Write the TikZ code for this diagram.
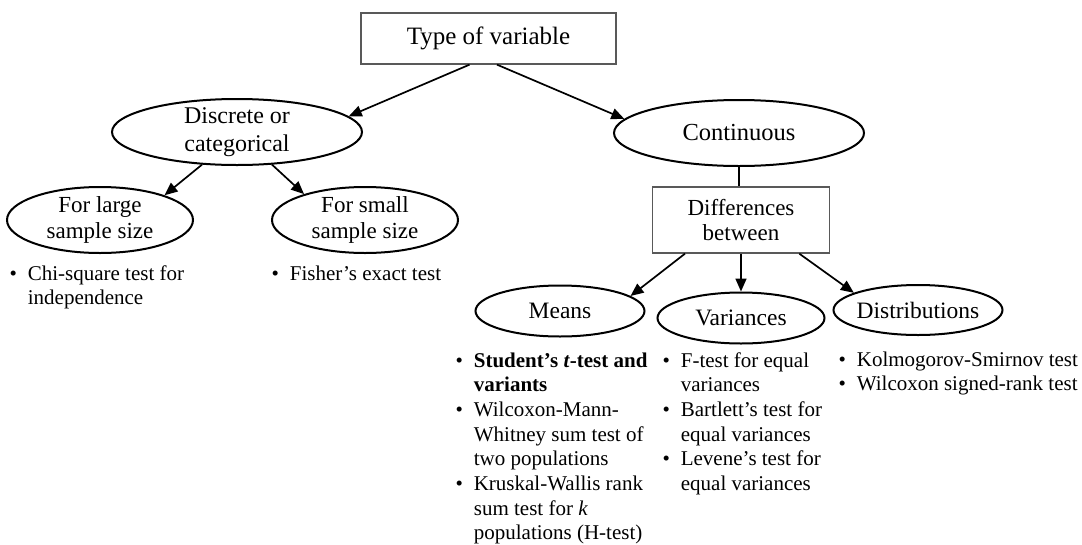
\documentclass[tikz,border=0pt]{standalone}
\usepackage{fontspec}
\setmainfont{Liberation Serif}
\usetikzlibrary{shapes.geometric,arrows.meta}

\tikzset{
  arr/.style={line width=1.7pt,-{Triangle[length=13pt,width=11pt]}},
  plainbox/.style={draw=black!65,line width=1.3pt,rectangle,inner sep=0pt,align=center},
  oval/.style={draw,line width=2pt,ellipse,inner sep=-3pt,align=center},
  testlist/.style={anchor=base west,inner sep=0pt,font=\fontsize{21}{24.7}\selectfont},
}
\newcommand{\fs}[2]{\fontsize{#1}{#2}\selectfont}

\begin{document}
\begin{tikzpicture}[x=1pt,y=-1pt]
\useasboundingbox (0,0) rectangle (1082,544);

\node[plainbox,minimum width=255pt,minimum height=51pt,font=\fs{25}{29}] (type) at (488.5,38.5) {Type of variable};

\node[oval,minimum width=250pt,minimum height=66pt,font=\fs{24}{28}] (disc) at (237,132) {Discrete or\\categorical};
\node[oval,minimum width=250pt,minimum height=66pt,font=\fs{24.5}{28}] (cont) at (739,133) {Continuous};

\node[oval,minimum width=186pt,minimum height=66pt,font=\fs{23}{26.5}] (large) at (100,220) {For large\\sample size};
\node[oval,minimum width=186pt,minimum height=66pt,font=\fs{23}{26.5}] (small) at (365,220) {For small\\sample size};

\node[plainbox,minimum width=177pt,minimum height=66pt,font=\fs{23}{25.5}] (diff) at (741,220) {Differences\\between};

\node[oval,minimum width=169pt,minimum height=51pt,font=\fs{23.5}{27}] (means) at (560,311) {Means};
\node[oval,minimum width=167pt,minimum height=51pt,font=\fs{23.5}{27}] (var) at (741,318) {Variances};
\node[oval,minimum width=169pt,minimum height=50pt,font=\fs{23.5}{27}] (dist) at (918,310) {Distributions};

\draw[arr] (type.234) -- (disc.8);
\draw[arr] (type.288) -- (cont.173);
\draw[arr] (disc.223) -- (large.21);
\draw[arr] (disc.317) -- (small.157);
\draw[line width=1.7pt] (cont.south) -- (cont.south |- diff.north);
\draw[arr] (diff.211) -- (means.12);
\draw[arr] (diff.south) -- (var.north);
\draw[arr] (diff.330) -- (dist.165);

\node[testlist] (chilist) at (9.3,280) {\begin{tabular}[t]{@{}c@{\hspace{11pt}}l@{}}
  \textbullet & Chi-square test for\\
              & independence
\end{tabular}};
\node[testlist] (fisherlist) at (271.3,280) {\begin{tabular}[t]{@{}c@{\hspace{11pt}}l@{}}
  \textbullet & Fisher's exact test
\end{tabular}};

\node[testlist] (meanslist) at (455.3,367) {\begin{tabular}[t]{@{}c@{\hspace{11pt}}l@{}}
  \textbullet & \textbf{Student's \textit{t}-test and}\\
              & \textbf{variants}\\
  \textbullet & Wilcoxon-Mann-\\
              & Whitney sum test of\\
              & two populations\\
  \textbullet & Kruskal-Wallis rank\\
              & sum test for \textit{k}\\
              & populations (H-test)
\end{tabular}};
\node[testlist] (varlist) at (662.3,367) {\begin{tabular}[t]{@{}c@{\hspace{11pt}}l@{}}
  \textbullet & F-test for equal\\
              & variances\\
  \textbullet & Bartlett's test for\\
              & equal variances\\
  \textbullet & Levene's test for\\
              & equal variances
\end{tabular}};
\node[testlist] (distlist) at (838.3,366) {\begin{tabular}[t]{@{}c@{\hspace{11pt}}l@{}}
  \textbullet & Kolmogorov-Smirnov test\\
  \textbullet & Wilcoxon signed-rank test
\end{tabular}};
\end{tikzpicture}
\end{document}
